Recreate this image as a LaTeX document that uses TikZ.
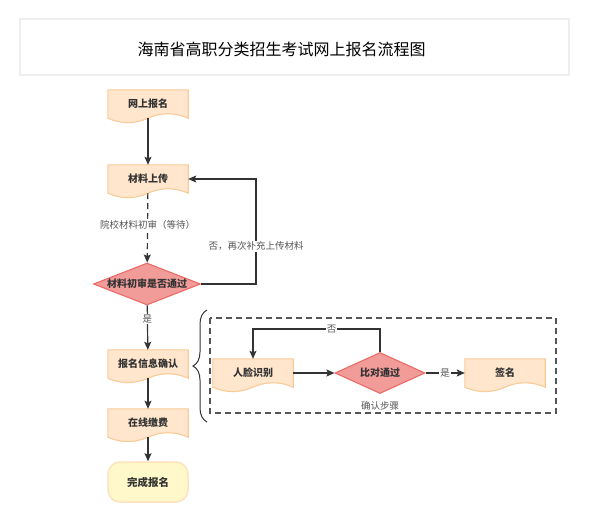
\documentclass[tikz,border=0pt]{standalone}
\usepackage{fontspec}
\setmainfont{Noto Sans CJK SC}
\usetikzlibrary{arrows.meta,shapes.geometric,calc,backgrounds,decorations.pathreplacing}

\definecolor{ink}{HTML}{333333}
\definecolor{labelgray}{HTML}{555555}
\definecolor{docfill}{HTML}{FFE6CC}
\definecolor{docline}{HTML}{F9CB98}
\definecolor{redfill}{HTML}{F19C99}
\definecolor{redline}{HTML}{EA6B66}
\definecolor{donefill}{HTML}{FFF8CA}
\definecolor{doneline}{HTML}{FFE2BC}
\definecolor{framegray}{HTML}{EEEEEE}

\begin{document}
\begin{tikzpicture}[x=1pt, y=-1pt,
  doc/.style={minimum width=80pt, minimum height=28pt, inner sep=0pt, text=ink,
    font=\bfseries\fontsize{10}{12}\selectfont},
  docshape/.style={fill=docfill, draw=docline, line width=1.1pt},
  decision/.style={diamond, aspect=2.5, minimum width=#1, inner sep=0pt,
    fill=redfill, draw=redline, line width=1.1pt, text=ink,
    font=\bfseries\fontsize{10}{12}\selectfont},
  lbl/.style={fill=white, inner sep=1pt, text=labelgray, font=\fontsize{9.5}{11}\selectfont},
  longdash/.style={dash pattern=on 6pt off 4pt},
  flow/.style={draw=ink, line width=1.2pt, -{Stealth[length=8pt,width=7pt,inset=1.5pt]}}]

  \useasboundingbox (0,0) rectangle (589,522);

  % title
  \draw[framegray, line width=1.5pt] (20,19) rectangle (569,75);
  \node (title) at (281.5,49) {\fontsize{16}{18}\selectfont 海南省高职分类招生考试网上报名流程图};

  % main column
  \node[doc] (web) at (148,104) {网上报名};
  \node[doc] (upload) at (148,179) {材料上传};
  \node[decision=107pt, minimum height=42pt] (check) at (147,284) {材料初审是否通过};
  \node[doc] (confirm) at (148,364) {报名信息确认};
  \node[doc] (pay) at (148,423) {在线缴费};
  \node[rounded corners=12pt, minimum width=80pt, minimum height=40pt, fill=donefill,
    draw=doneline, line width=1.5pt, text=ink, font=\bfseries\fontsize{10.5}{12}\selectfont]
    (done) at (148,482) {完成报名};

  % confirmation steps
  \draw[labelgray, line width=1.2pt, longdash] (210,318) rectangle (556,413);
  \node[text=labelgray, font=\fontsize{9.5}{11}\selectfont] (steps) at (380,406) {确认步骤};
  \node[doc] (face) at (253,373) {人脸识别};
  \node[decision=90pt, minimum height=41pt, aspect=2.2] (cmp) at (380,373) {比对通过};
  \node[doc] (sign) at (505,373) {签名};

  \draw[ink, line width=1pt, decorate, decoration={brace, amplitude=14pt}]
    (207,422) -- (207,310);

  % document outlines
  \begin{scope}[on background layer]
    \foreach \n in {web,upload,confirm,pay,face,sign}
      \draw[docshape] (\n.south west) -- (\n.north west) -- (\n.north east) -- (\n.south east)
        .. controls ($(\n.south east)+(-13.3,-5.9)$) and ($(\n.south)+(13.3,-5.9)$) .. (\n.south)
        .. controls ($(\n.south)+(-13.3,5.9)$) and ($(\n.south west)+(13.3,5.9)$) .. (\n.south west)
        -- cycle;
  \end{scope}

  % connectors
  \draw[flow] (web) -- (upload);
  \draw[flow, longdash] (upload) -- node[lbl, pos=0.45] {院校材料初审（等待）} (check);
  \draw[flow] (check.east) -- (256,284) |- node[lbl, pos=0.18] {否，再次补充上传材料} (upload.east);
  \draw[flow] (check) -- node[lbl, pos=0.3] {是} (confirm);
  \draw[flow] (confirm) -- (pay);
  \draw[flow] (pay) -- (done);

  \draw[flow] (face) -- (cmp);
  \draw[flow] (cmp.north) -- ++(0,-23) -| node[lbl, pos=0.19] {否} (face.north);
  \draw[flow] (cmp) -- node[lbl] {是} (sign);

\end{tikzpicture}
\end{document}
